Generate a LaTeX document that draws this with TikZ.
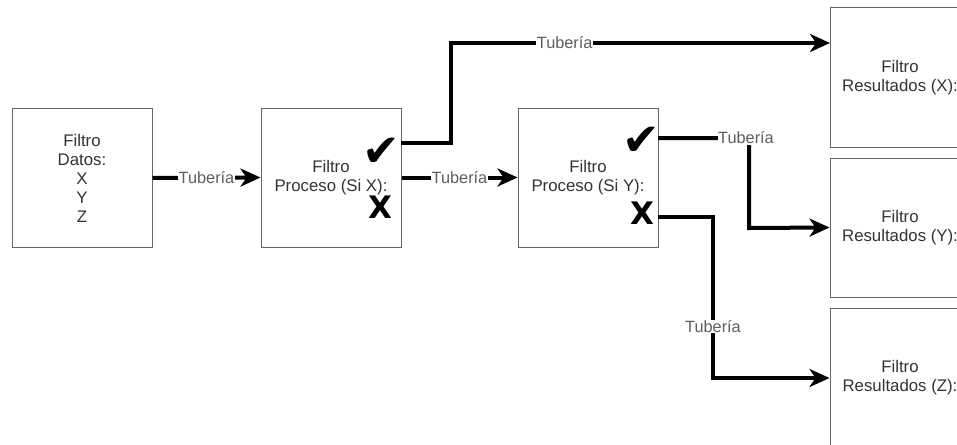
\documentclass[tikz,border=0pt]{standalone}
\usepackage{fontspec}
\setmainfont{Liberation Sans}
\newfontfamily\symfont{DejaVu Sans}
\usetikzlibrary{arrows.meta,calc}

\definecolor{boxgray}{HTML}{666666}
\definecolor{txtgray}{HTML}{333333}
\definecolor{lblgray}{HTML}{5E5E5E}

\tikzset{
  box/.style={draw=boxgray, line width=1pt, minimum width=140pt, minimum height=139pt,
    align=center, text=txtgray, inner sep=0pt, font=\fontsize{16.8}{19}\selectfont},
  pipe/.style={line width=4pt, black, line join=miter,
    -{Stealth[length=20pt,width=18pt,inset=6pt]}},
  lbl/.style={fill=white, text=lblgray, inner sep=0.6pt, font=\fontsize{16.3}{18}\selectfont},
  okmark/.style={inner sep=0pt, font=\symfont\fontsize{45}{45}\selectfont},
  nomark/.style={inner sep=0pt, font=\symfont\bfseries\fontsize{31}{31}\selectfont},
}

\begin{document}
\begin{tikzpicture}[x=1pt,y=-1pt]
\useasboundingbox (0,0) rectangle (957,444);
\begin{scope}
\clip (0,0) rectangle (957,444);

% filter boxes
\node[box] (d)  at (82,178)    {Filtro\\Datos:\\X\\Y\\Z};
\node[box] (p1) at (331,177.5) {Filtro\\Proceso (Si X):};
\node[box] (p2) at (588,177.5) {Filtro\\Proceso (Si Y):};
\node[box] (rX) at (900,77.5)  {Filtro\\Resultados (X):};
\node[box] (rY) at (900,227.5) {Filtro\\Resultados (Y):};
\node[box] (rZ) at (900,378)   {Filtro\\Resultados (Z):};

% yes / no marks
\node[okmark] (ck1) at (381,152) {✔};
\node[nomark] (no1) at (380,207) {X};
\node[okmark] (ck2) at (641,141) {✔};
\node[nomark] (no2) at (642,213) {X};

% pipe start and end points
\coordinate (s1) at (401,143);
\coordinate (s2) at (658,138);
\coordinate (s3) at (658,217);
\coordinate (tX) at (830,43);

% pipes
\draw[pipe] (d.east) -- node[lbl]{Tubería} (p1.west);
\draw[pipe] (p1.east) -- node[lbl]{Tubería} (p2.west);
\draw[pipe] (s1) -| (451,43) -- node[lbl,pos=0.3]{Tubería} (tX);
\draw[pipe] (s2) -| node[lbl,pos=0.5,xshift=-3pt]{Tubería} (749,228) -- (rY.west);
\draw[pipe] (s3) -- (713,217) |- node[lbl,pos=0.34]{Tubería} (rZ.west);
\end{scope}
\end{tikzpicture}
\end{document}
